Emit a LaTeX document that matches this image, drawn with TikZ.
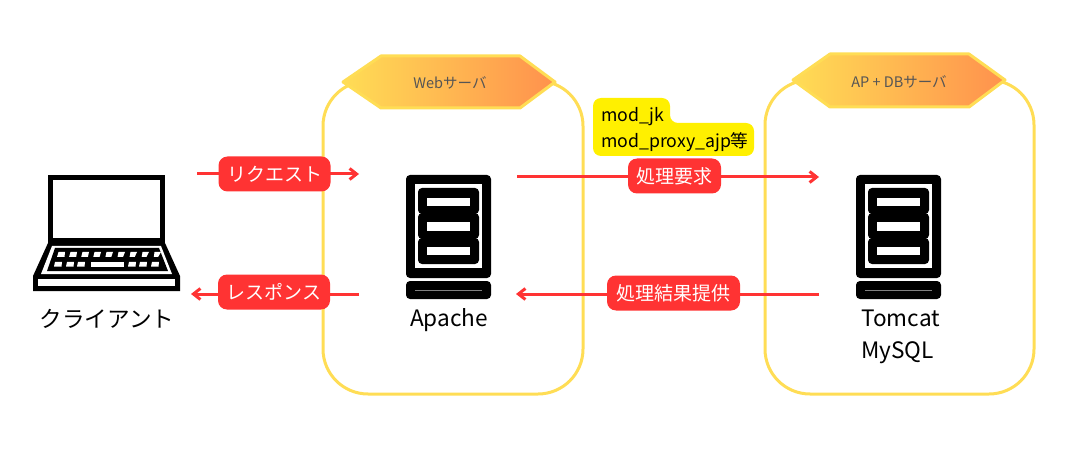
\documentclass[tikz,border=0pt]{standalone}
\usepackage{fontspec}
\setmainfont{Noto Sans CJK JP}
\usetikzlibrary{arrows.meta}
\definecolor{panelyl}{RGB}{255,221,85}
\definecolor{hexor}{RGB}{255,145,77}
\definecolor{tagrd}{RGB}{255,51,51}
\definecolor{notey}{RGB}{255,240,0}
\definecolor{hexgr}{RGB}{85,85,85}
\tikzset{
  panel/.style={draw=panelyl,line width=3pt,rounded corners=45pt},
  hexa/.style={draw=panelyl,line width=3pt,line join=round,left color=panelyl,right color=hexor},
  hexlabel/.style={text=hexgr,font=\fontsize{14.5}{16}\selectfont,inner sep=0pt},
  flow/.style={draw=tagrd,line width=3pt,-{Straight Barb[length=7pt,width=11pt]}},
  tag/.style={fill=tagrd,text=white,rounded corners=9pt,inner sep=0pt,font=\fontsize{19}{22}\selectfont,minimum height=35pt},
  caption/.style={font=\fontsize{22.6}{26}\selectfont,inner sep=0pt},
  notetext/.style={font=\fontsize{17.7}{22}\selectfont,inner sep=0pt,anchor=west}
}
\begin{document}
\begin{tikzpicture}[x=1pt,y=-1pt]
\useasboundingbox (0,0) rectangle (1070,462);
% panels
\draw[panel] (323,81) rectangle (583,394);
\draw[panel] (765,80) rectangle (1034,394);
\draw[hexa] (343,82) -- (381,56) -- (520,56) -- (555,82) -- (520,108) -- (381,108) -- cycle;
\draw[hexa] (793,80) -- (830,54) -- (969,54) -- (1005,80) -- (969,107) -- (830,107) -- cycle;
\node[hexlabel] (webtitle) at (450,83) {Webサーバ};
\node[hexlabel] (aptitle) at (899,82) {AP + DBサーバ};
% laptop
\draw[black,line width=5pt,fill=white] (50.5,177.5) rectangle (162.5,240.5);
\fill[black] (48,243) -- (165,243) -- (180,276) -- (180,291) -- (33,291) -- (33,276) -- cycle;
\fill[white] (52,246) -- (161,246) -- (172,274) -- (41,274) -- cycle;
\fill[black] (55,248) -- (159,248) -- (168,271) -- (47,271) -- cycle;
\fill[white] (38,279) rectangle (175,286);
\foreach \kx in {0,...,8}
  \fill[white] ({58.5+\kx*12},252) -- ({65+\kx*12},252) -- ({64.5+\kx*11.7},257) -- ({57+\kx*12.1},257) -- cycle;
\foreach \kx in {55,67,78,129,140,152}
  \fill[white] (\kx,262) -- ++(7,0) -- ++(-.5,4.5) -- ++(-7.5,0) -- cycle;
\fill[white] (91,262) rectangle (124,266.5);
% servers
\foreach \sx in {0,450}{
  \begin{scope}[xshift=\sx pt]
  \fill[black,rounded corners=4pt] (406,175) rectangle (491,278);
  \fill[white] (415,184) rectangle (482,268);
  \foreach \sy in {188,213,238}
    \fill[black,rounded corners=4pt] (418,\sy) rectangle (479,\sy+26);
  \foreach \sy in {198,222.5,247}
    \fill[white] (427,\sy) rectangle (470,\sy+8.5);
  \fill[black,rounded corners=4pt] (406,281) rectangle (491,299);
  \draw[gray,line width=1pt] (415,290) -- (482,290);
  \end{scope}
}
\node[caption] (client) at (107,319) {クライアント};
\node[caption] (apache) at (449,320.5) {Apache};
\node[caption,anchor=west] (tomcat) at (861,318) {Tomcat};
\node[caption,anchor=west] (mysql) at (861,352.5) {MySQL};
% note
\fill[notey,rounded corners=8pt] (593,98) -- (670,98) -- (670,123) -- (754,123) -- (754,156) -- (593,156) -- cycle;
\node[notetext] (jk) at (601,117) {mod\_jk};
\node[notetext] (ajp) at (601,142) {mod\_proxy\_ajp等};
% arrows
\coordinate (reqa) at (197,174);
\coordinate (reqb) at (359,174);
\coordinate (proca) at (517,177);
\coordinate (procb) at (819,177);
\coordinate (resa) at (359,294);
\coordinate (resb) at (191,294);
\coordinate (reta) at (819,294);
\coordinate (retb) at (516,294);
\draw[flow] (reqa) -- (reqb);
\draw[flow] (proca) -- (procb);
\draw[flow] (resa) -- (resb);
\draw[flow] (reta) -- (retb);
\node[tag,minimum width=112pt] (req) at (274.5,174) {リクエスト};
\node[tag,minimum width=93pt] (proc) at (674.5,176) {処理要求};
\node[tag,minimum width=112pt] (res) at (274,292) {レスポンス};
\node[tag,minimum width=133pt] (ret) at (673.5,293) {処理結果提供};
\end{tikzpicture}
\end{document}
